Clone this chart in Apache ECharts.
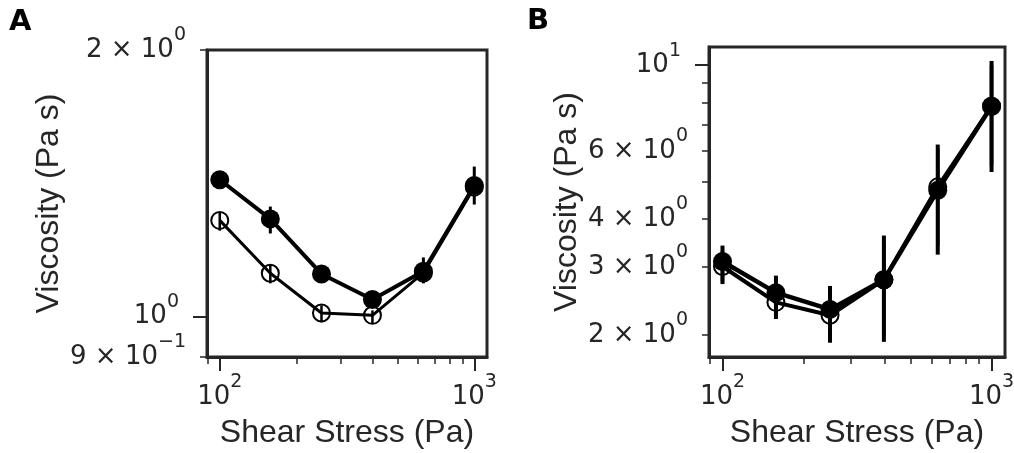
<!DOCTYPE html>
<html>
<head>
<meta charset="utf-8">
<script src="https://cdn.jsdelivr.net/npm/echarts@6/dist/echarts.min.js"></script>
<style>html,body{margin:0;padding:0;background:#fff}#c{width:1014px;height:453px}</style>
</head>
<body>
<div id="c"></div>
<script>
// ---- data ----
const shearStress = [100, 158, 251, 398, 631, 1000];

const aFilled   = [1.427, 1.289, 1.117, 1.045, 1.125, 1.406];
const aFilledLo = [1.410, 1.241, 1.100, 1.030, 1.090, 1.338];
const aFilledHi = [1.445, 1.331, 1.135, 1.060, 1.166, 1.477];
const aOpen     = [1.284, 1.119, 1.009, 1.003, 1.120, 1.400];
const aOpenLo   = [1.250, 1.090, 0.985, 0.982, 1.100, 1.370];
const aOpenHi   = [1.312, 1.145, 1.029, 1.016, 1.140, 1.430];

const bFilled   = [3.10, 2.575, 2.33, 2.78, 4.74, 7.83];
const bFilledLo = [2.71, 2.20, 1.91, 1.92, 3.23, 5.29];
const bFilledHi = [3.41, 2.85, 2.68, 3.62, 6.23, 10.26];
const bOpen     = [3.01, 2.43, 2.25, 2.78, 4.84, 7.83];
const bOpenLo   = [2.75, 2.25, 1.98, 2.00, 3.40, 5.50];
const bOpenHi   = [3.30, 2.65, 2.55, 3.50, 6.10, 10.00];

// ticks
const xMajorTicks = [100, 1000];
const xMajorLabels = [['10', '2'], ['10', '3']];
const xMinorTicks = [90, 200, 300, 400, 500, 600, 700, 800, 900];

const aYMajorTicks = [1];
const aYMajorLabels = [['10', '0']];
const aYMinorTicks = [0.9, 2];
const aYMinorLabels = [['9 × 10', '−1'], ['2 × 10', '0']];

const bYMajorTicks = [10];
const bYMajorLabels = [['10', '1']];
const bYMinorTicks = [2, 3, 4, 5, 6, 7, 8, 9];
const bYMinorLabelVals = [2, 3, 4, 6];
const bYMinorLabels = [['2 × 10', '0'], ['3 × 10', '0'], ['4 × 10', '0'], ['6 × 10', '0']];

const xRange = [89.1, 1122];
const aYRange = [0.9, 2];
const bYRange = [1.754, 11.15];

const xTitle = 'Shear Stress (Pa)';
const yTitle = 'Viscosity (Pa s)';
// ---------------------------------------

const L = Math.log10;
const TXT = '#262626';
function makeRich() {
  return {
    b: {fontFamily: 'DejaVu Sans', fontSize: 26, lineHeight: 48, color: TXT, verticalAlign: 'middle'},
    s: {fontFamily: 'DejaVu Sans', fontSize: 19, lineHeight: 19, color: TXT, verticalAlign: 'top'}
  };
}
function fmt(vals, labels) {
  return function (v) {
    for (let i = 0; i < vals.length; i++) {
      if (Math.abs(L(vals[i]) - v) < 1e-6) return '{b|' + labels[i][0] + '}{s|' + labels[i][1] + '}';
    }
    return '';
  };
}

function xAxes(gridIndex) {
  return [
    {type: 'value', gridIndex: gridIndex, position: 'bottom', min: L(xRange[0]), max: L(xRange[1]),
      axisLine: {show: true, onZero: false, lineStyle: {color: TXT, width: 3}}, splitLine: {show: false},
      axisTick: {length: 14, lineStyle: {color: TXT, width: 2}, customValues: xMajorTicks.map(L)},
      axisLabel: {margin: 16, customValues: xMajorTicks.map(L), formatter: fmt(xMajorTicks, xMajorLabels), rich: makeRich()},
      name: xTitle, nameLocation: 'middle', nameGap: 60,
      nameTextStyle: {fontFamily: 'Liberation Sans', fontSize: 32, color: TXT}},
    {type: 'value', gridIndex: gridIndex, position: 'bottom', min: L(xRange[0]), max: L(xRange[1]),
      axisLine: {show: false, onZero: false}, splitLine: {show: false},
      axisTick: {length: 7, lineStyle: {color: TXT, width: 1.5}, customValues: xMinorTicks.map(L)},
      axisLabel: {show: false}}
  ];
}
function yAxes(gridIndex, range, majT, majLab, minT, minLabVals, minLab, nameGap) {
  return [
    {type: 'value', gridIndex: gridIndex, position: 'left', min: L(range[0]), max: L(range[1]),
      axisLine: {show: true, onZero: false, lineStyle: {color: TXT, width: 3}}, splitLine: {show: false},
      axisTick: {length: 14, lineStyle: {color: TXT, width: 2}, customValues: majT.map(L)},
      axisLabel: {margin: 28, customValues: majT.map(L), formatter: fmt(majT, majLab), rich: makeRich()},
      name: yTitle, nameLocation: 'middle', nameGap: nameGap,
      nameTextStyle: {fontFamily: 'Liberation Sans', fontSize: 32, color: TXT}},
    {type: 'value', gridIndex: gridIndex, position: 'left', min: L(range[0]), max: L(range[1]),
      axisLine: {show: false, onZero: false}, splitLine: {show: false},
      axisTick: {length: 7, lineStyle: {color: TXT, width: 1.5}, customValues: minT.map(L)},
      axisLabel: {margin: 21, customValues: minLabVals.map(L), formatter: fmt(minLabVals, minLab), rich: makeRich()}}
  ];
}

function pts(xs, ys) { return xs.map((x, i) => [L(x), L(ys[i])]); }
function bars(xs, lo, hi) { return xs.map((x, i) => [L(x), L(lo[i]), L(hi[i])]); }

function errSeries(xi, yi, data, w) {
  return {type: 'custom', xAxisIndex: xi, yAxisIndex: yi, data: data, encode: {x: 0, y: [1, 2]}, z: 3,
    renderItem: function (params, api) {
      const p1 = api.coord([api.value(0), api.value(1)]);
      const p2 = api.coord([api.value(0), api.value(2)]);
      return {type: 'line', shape: {x1: p1[0], y1: p1[1], x2: p2[0], y2: p2[1]}, style: {stroke: '#000', lineWidth: w}};
    }};
}
function openSeries(xi, yi, data, lw) {
  return {type: 'line', xAxisIndex: xi, yAxisIndex: yi, data: data, symbol: 'circle', symbolSize: 17, z: 4,
    lineStyle: {color: '#000', width: lw}, itemStyle: {color: 'rgba(0,0,0,0)', borderColor: '#000', borderWidth: 2}};
}
function filledSeries(xi, yi, data, lw) {
  return {type: 'line', xAxisIndex: xi, yAxisIndex: yi, data: data, symbol: 'circle', symbolSize: 19, z: 5,
    lineStyle: {color: '#000', width: lw}, itemStyle: {color: '#000', borderWidth: 0}};
}

const gridBase = {show: true, borderWidth: 3, borderColor: TXT, backgroundColor: 'rgba(0,0,0,0)', outerBoundsMode: 'none', containLabel: false};

const option = {
  animation: false,
  backgroundColor: '#fff',
  title: [
    {text: 'A', left: 4, top: 3, textStyle: {fontFamily: 'DejaVu Sans', fontWeight: 'bold', fontSize: 29, color: '#000'}},
    {text: 'B', left: 522, top: 2, textStyle: {fontFamily: 'DejaVu Sans', fontWeight: 'bold', fontSize: 29, color: '#000'}}
  ],
  grid: [
    Object.assign({left: 207, top: 50, width: 280, height: 307}, gridBase),
    Object.assign({left: 709, top: 47, width: 296, height: 310}, gridBase)
  ],
  xAxis: [].concat(xAxes(0), xAxes(1)),
  yAxis: [].concat(
    yAxes(0, aYRange, aYMajorTicks, aYMajorLabels, aYMinorTicks, aYMinorTicks, aYMinorLabels, 142),
    yAxes(1, bYRange, bYMajorTicks, bYMajorLabels, bYMinorTicks, bYMinorLabelVals, bYMinorLabels, 126)
  ),
  series: [
    errSeries(0, 0, bars(shearStress, aOpenLo, aOpenHi), 2.5),
    errSeries(0, 0, bars(shearStress, aFilledLo, aFilledHi), 3),
    openSeries(0, 0, pts(shearStress, aOpen), 3),
    filledSeries(0, 0, pts(shearStress, aFilled), 4),
    errSeries(2, 2, bars(shearStress, bOpenLo, bOpenHi), 3.5),
    errSeries(2, 2, bars(shearStress, bFilledLo, bFilledHi), 4),
    openSeries(2, 2, pts(shearStress, bOpen), 4),
    filledSeries(2, 2, pts(shearStress, bFilled), 4.5)
  ]
};
const chart = echarts.init(document.getElementById('c'));
chart.setOption(option);
</script>
</body>
</html>
